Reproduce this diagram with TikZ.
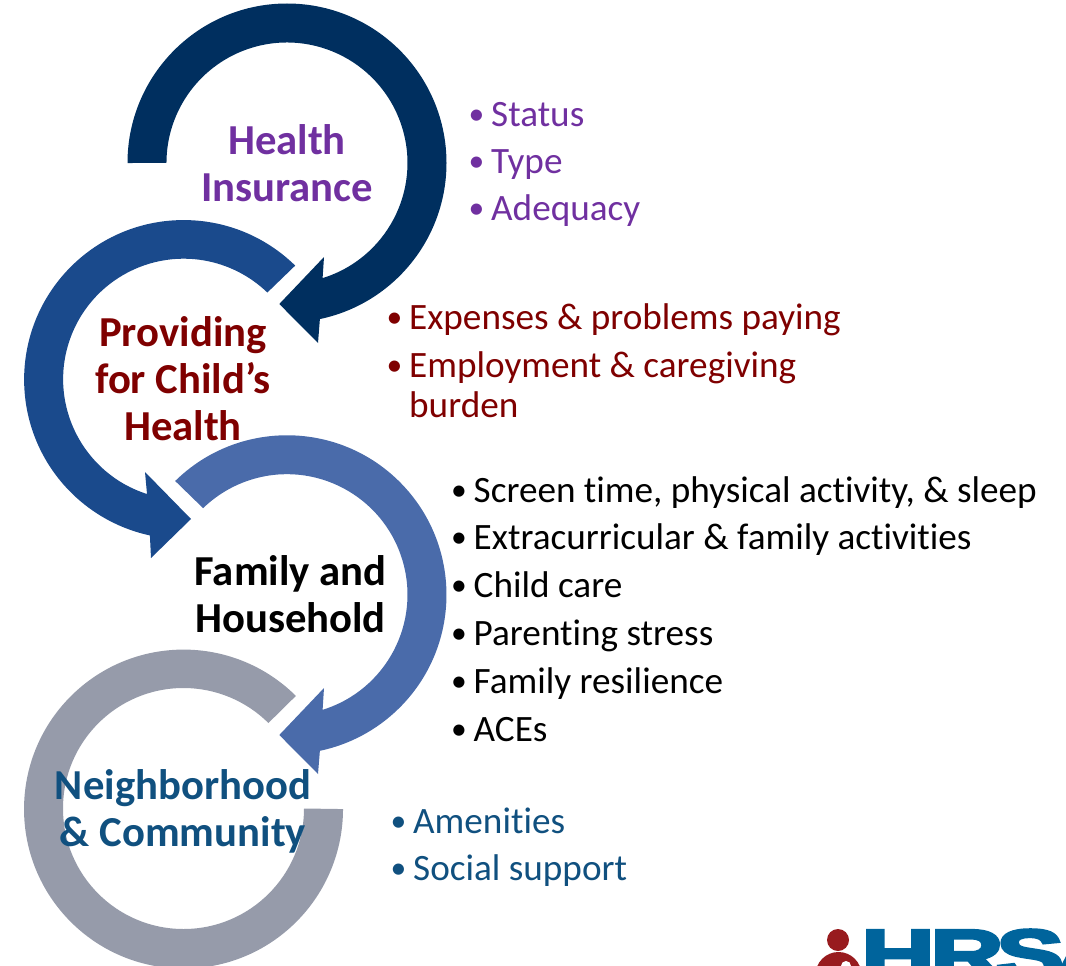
\documentclass[tikz,border=0pt]{standalone}
\usepackage{fontspec}
\setmainfont[Ligatures=NoCommon]{Carlito}
\newfontfamily\logofont[FakeBold=4]{Liberation Sans Bold}
\definecolor{ringa}{HTML}{002F5F}
\definecolor{ringb}{HTML}{1A4A8C}
\definecolor{ringc}{HTML}{4A6BAA}
\definecolor{ringd}{HTML}{969BAA}
\definecolor{purp}{HTML}{7030A0}
\definecolor{dred}{HTML}{7F0000}
\definecolor{dblue}{HTML}{10507F}
\definecolor{logored}{HTML}{981B1E}
\definecolor{logoblue}{HTML}{00649C}
\newcommand{\bitem}[1]{\makebox[21pt][l]{\kern-1.5pt\raisebox{1.7pt}{\scalebox{.85}{\textbullet}}}#1}

\begin{document}
\begin{tikzpicture}
[
x=1pt, y=1pt,
title/.style={font=\bfseries\fontsize{42.7}{47}\selectfont, align=center, inner sep=0pt},
item/.style={font=\fontsize{37.2}{40}\selectfont, anchor=base west, inner sep=0pt, align=left},
]
\useasboundingbox (0,0) rectangle (1066,-966);
\clip (0,0) rectangle (1066,-966);

% rings
\fill[ringa] (127.5,-163) arc[start angle=180, end angle=-78.1, radius=159.5] -- (318,-343) -- (279.3,-304) -- (324,-257) -- (322.6,-278.1) arc[start angle=-72.8, end angle=180, radius=120.5] -- cycle;
\fill[ringb] (295.2,-265.6) arc[start angle=45.6, end angle=257.8, radius=159.5] -- (151,-558) -- (191,-519) -- (145,-472) -- (147,-494) arc[start angle=252.3, end angle=46, radius=120.5] -- cycle;
\fill[ringc] (175.2,-481) arc[start angle=134.5, end angle=-78.1, radius=159.5] -- (318,-774) -- (279.3,-735) -- (324,-688) -- (322.6,-709.8) arc[start angle=-72.8, end angle=134.1, radius=120.5] -- cycle;
\fill[ringd] (295.9,-695.9) arc[start angle=45.2, end angle=360, radius=159.5] -- (304,-808.5) arc[start angle=360, end angle=45.2, radius=120.5] -- cycle;

% titles
\node at (287,-163) [title, text=purp] (health) {Health\\Insurance};
\node at (183,-379) [title, text=dred] (child) {Providing\\for Child’s\\Health};
\node at (290.5,-594) [title, text=black] (family) {Family and\\Household};
\node at (183,-811) [title, text=dblue] (neigh) {Neighborhood\\\& Community};

% lists
\node at (470,-126) [item, text=purp] (status) {\bitem{Status}};
\node at (470,-173) [item, text=purp] (type) {\bitem{Type}};
\node at (470,-220) [item, text=purp] (adequacy) {\bitem{Adequacy}};

\node at (388,-329) [item, text=dred] (expenses) {\bitem{Expenses \& problems paying}};
\node at (388,-417) [item, text=dred] (employ) {\bitem{Employment \& caregiving}\\\hspace*{21pt}burden};

\node at (452.5,-502) [item] (screen) {\bitem{Screen time, physical activity, \& sleep}};
\node at (452.5,-549) [item] (extra) {\bitem{Extracurricular \& family activities}};
\node at (452.5,-597) [item] (care) {\bitem{Child care}};
\node at (452.5,-645) [item] (stress) {\bitem{Parenting stress}};
\node at (452.5,-693) [item] (resil) {\bitem{Family resilience}};
\node at (452.5,-741) [item] (aces) {\bitem{ACEs}};

\node at (392,-833) [item, text=dblue] (amen) {\bitem{Amenities}};
\node at (392,-880) [item, text=dblue] (social) {\bitem{Social support}};

% logo
\fill[logored] (838,-940) circle (11);
\fill[logored] (815.5,-975) arc[start angle=180, end angle=0, radius=23] -- cycle;
\fill[white] (846,-966) circle (5);
\node at (861,-978.5) [anchor=base west, inner sep=0pt, text=logoblue, font=\logofont\fontsize{70}{70}\selectfont, xscale=1.45] (hrsa) {H\kern-3pt R\kern-5pt S\kern-7pt A};
\end{tikzpicture}
\end{document}
